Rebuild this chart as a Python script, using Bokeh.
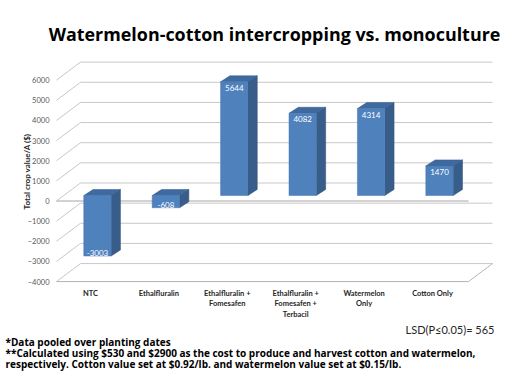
from bokeh.plotting import figure
from bokeh.models import Range1d, FixedTicker, Title, ColumnDataSource
from bokeh.embed import file_html
from bokeh.resources import INLINE
from bokeh.core.properties import value

# ---- data ----
categories = ["NTC", "Ethalfluralin", "Ethalfluralin +\nFomesafen",
              "Ethalfluralin +\nFomesafen +\nTerbacil", "Watermelon\nOnly", "Cotton Only"]
crop_values = [-3003, -608, 5644, 4082, 4314, 1470]
y_ticks = [-4000, -3000, -2000, -1000, 0, 1000, 2000, 3000, 4000, 5000, 6000]
title_text = "Watermelon-cotton intercropping vs. monoculture"
y_label = "Total crop value/A ($)"
lsd_text = "LSD(P\u22640.05)= 565"
foot1 = "*Data pooled over planting dates"
foot2 = "**Calculated using $530 and $2900 as the cost to produce and harvest cotton and watermelon,"
foot3 = "respectively.  Cotton value set at $0.92/lb. and watermelon value set at $0.15/lb."

# ---- style constants (3-D look) ----
FONT = value("Lato")
DXW, DYW = 0.351, 894          # wall depth offset
DXB0, DYB0 = 0.102, 273        # bar front face offset from front plane
DXB, DYB = 0.136, 298          # bar depth
HALF_W = 0.2
X_FRONT = -0.497
X_FLOOR_END = 5.526
GRID = "#C8C8C8"

p = figure(width=512, height=384, output_backend="svg", toolbar_location=None,
           x_range=Range1d(-0.526, 5.906), y_range=Range1d(-4145, 7074),
           min_border_left=54, min_border_right=18, min_border_top=58, min_border_bottom=100,
           background_fill_color="white", border_fill_color="white")
p.outline_line_color = None
p.xgrid.visible = False
p.ygrid.visible = False

p.title.text = title_text
p.title.align = "center"
p.title.offset = -23
p.title.text_font = "Open Sans"
p.title.text_font_style = "bold"
p.title.text_font_size = "17.9px"
p.title.text_color = "black"
p.title.standoff = 25

# axes
p.yaxis.ticker = FixedTicker(ticks=y_ticks)
p.yaxis.axis_line_color = None
p.yaxis.major_tick_line_color = None
p.yaxis.minor_tick_line_color = None
p.yaxis.major_tick_out = 0
p.yaxis.major_tick_in = 0
p.yaxis.major_label_text_font = "Lato"
p.yaxis.major_label_text_font_size = "7.5px"
p.yaxis.major_label_text_color = "#595959"
p.yaxis.major_label_standoff = 5
p.yaxis.axis_label = y_label
p.yaxis.axis_label_text_font = "Lato"
p.yaxis.axis_label_text_font_style = "bold"
p.yaxis.axis_label_text_font_size = "8px"
p.yaxis.axis_label_text_color = "#262626"
p.yaxis.axis_label_standoff = -7

p.xaxis.ticker = FixedTicker(ticks=list(range(len(categories))))
p.xaxis.major_label_overrides = {i: c for i, c in enumerate(categories)}
p.xaxis.axis_line_color = None
p.xaxis.major_tick_line_color = None
p.xaxis.minor_tick_line_color = None
p.xaxis.major_tick_out = 0
p.xaxis.major_tick_in = 0
p.xaxis.major_label_text_font = "Lato"
p.xaxis.major_label_text_font_style = "bold"
p.xaxis.major_label_text_font_size = "7.5px"
p.xaxis.major_label_text_color = "#262626"
p.xaxis.major_label_standoff = 4

# walls
back_xs = [[X_FRONT + DXW, X_FLOOR_END + DXW] for v in y_ticks]
back_ys = [[v + DYW, v + DYW] for v in y_ticks]
side_xs = [[X_FRONT, X_FRONT + DXW] for v in y_ticks]
side_ys = [[v, v + DYW] for v in y_ticks]
p.multi_line(back_xs, back_ys, line_color=GRID, line_width=1)
p.multi_line(side_xs, side_ys, line_color=GRID, line_width=1)
fl = y_ticks[0]
p.line([X_FRONT, X_FLOOR_END, X_FLOOR_END + DXW], [fl, fl, fl + DYW], line_color="#B4B4B4", line_width=1)
p.line([X_FRONT, X_FLOOR_END], [0, 0], line_color="#A6A6A6", line_width=1)

# bars
front_l, front_r, front_b, front_t = [], [], [], []
top_xs, top_ys, side_bx, side_by = [], [], [], []
lab_x, lab_y, lab_base, lab_off = [], [], [], []
for i, v in enumerate(crop_values):
    L = i + DXB0 - HALF_W
    R = i + DXB0 + HALF_W
    B = DYB0 + min(0, v)
    T = DYB0 + max(0, v)
    front_l.append(L); front_r.append(R); front_b.append(B); front_t.append(T)
    top_xs.append([L, R, R + DXB, L + DXB])
    top_ys.append([T, T, T + DYB, T + DYB])
    side_bx.append([R, R + DXB, R + DXB, R])
    side_by.append([B, B + DYB, T + DYB, T])
    lab_x.append(i + DXB0)
    if v >= 0:
        lab_y.append(T); lab_base.append("top"); lab_off.append(3)
    else:
        lab_y.append(B); lab_base.append("bottom"); lab_off.append(0)

p.patches(side_bx, side_by, fill_color="#385D8A", line_color="#2E4E75", line_width=0.5)
p.patches(top_xs, top_ys, fill_color="#3F6A9F", line_color="#35598A", line_width=0.5)
p.quad(left=front_l, right=front_r, bottom=front_b, top=front_t,
       fill_color="#4F81BD", line_color="#4677B0", line_width=0.5)

src = ColumnDataSource(dict(x=lab_x, y=lab_y, t=[str(v) for v in crop_values],
                            base=lab_base, off=lab_off))
p.text(x="x", y="y", text="t", source=src, text_align="center", text_baseline="base",
       y_offset="off", text_color="white", text_font=FONT, text_font_size="8px")

# notes below the chart
p.add_layout(Title(text=lsd_text, align="right", text_font="Lato", text_font_style="normal",
                   text_font_size="11px", text_color="#262626", standoff=-3), "below")
for txt, so in [(foot1, -4), (foot2, -5), (foot3, -6)]:
    p.add_layout(Title(text=txt, align="left", offset=-49, text_font="Open Sans",
                       text_font_style="bold", text_font_size="10px", text_color="black",
                       standoff=so), "below")

open("out.html", "w").write(file_html(p, INLINE))
